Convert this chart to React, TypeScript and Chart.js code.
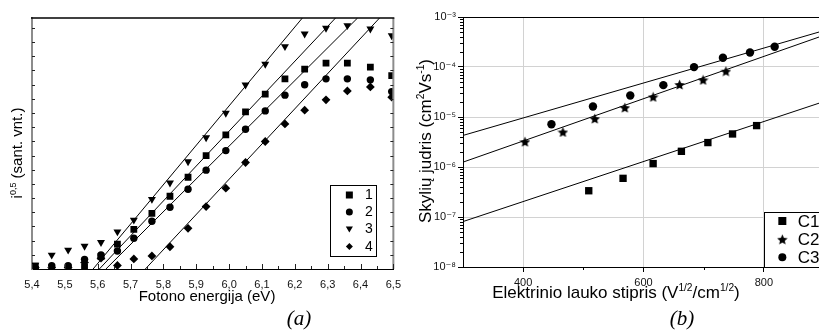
import React, { useEffect, useRef } from 'react';
import { Chart, registerables } from 'chart.js';
Chart.register(...registerables);

const FONT = '"Liberation Sans", Arial, "DejaVu Sans", sans-serif';
const SERIF = '"Liberation Serif", "Times New Roman", serif';

// ---------- (a) photoemission data ----------
const energyEV = [5.41, 5.46, 5.51, 5.56, 5.61, 5.66, 5.71, 5.765, 5.82, 5.875, 5.93, 5.99, 6.05, 6.11, 6.17, 6.23, 6.295, 6.36, 6.43, 6.495];
const sample1 = [0.21, 0.09, 0.09, 0.12, 0.87, 1.76, 2.8, 3.93, 5.13, 6.47, 8.0, 9.46, 11.08, 12.33, 13.41, 14.09, 14.52, 14.52, 14.23, 13.64];
const sample2 = [0.05, 0.23, 0.23, 0.68, 0.99, 1.27, 2.17, 3.37, 4.35, 5.62, 6.97, 8.35, 9.86, 11.15, 12.26, 12.99, 13.41, 13.41, 13.34, 12.51];
const sample3 = [0.28, 0.99, 1.34, 1.62, 1.88, 2.63, 3.46, 4.92, 6.07, 7.57, 9.27, 10.99, 12.99, 14.45, 15.69, 16.58, 16.99, 17.17, 16.94, 16.46];
const sample4 = [0.11, 0.11, 0.11, 0.45, 0.76, 0.25, 0.71, 0.92, 1.57, 2.87, 4.4, 5.7, 7.51, 8.99, 10.23, 11.2, 11.93, 12.56, 12.84, 12.12];
const seriesLabelsA = ['1', '2', '3', '4'];
// fit lines: energy where the fit crosses bottom and top of the plot
const fitStartA = [5.605, 5.625, 5.586, 5.745];
const fitEndA = [6.324, 6.391, 6.223, 6.458];
const yMinA = 0;
const yMaxA = 17.7;
const energyTicks = [5.4, 5.5, 5.6, 5.7, 5.8, 5.9, 6.0, 6.1, 6.2, 6.3, 6.4, 6.5];
const energyMinorTicks = [5.45, 5.55, 5.65, 5.75, 5.85, 5.95, 6.05, 6.15, 6.25, 6.35, 6.45];
const intensityTicks = [1, 2, 3, 4, 5, 6, 7, 8, 9, 10, 11, 12, 13, 14, 15, 16, 17];

// ---------- (b) mobility data ----------
const fieldC1 = [509, 566, 616, 663, 707, 748, 788];
const mobC1 = [3.35e-7, 5.93e-7, 1.17e-6, 2.06e-6, 3.08e-6, 4.58e-6, 6.73e-6];
const fieldC2 = [403, 466, 519, 569, 616, 660, 699, 737];
const mobC2 = [3.21e-6, 5.02e-6, 9.29e-6, 1.54e-5, 2.53e-5, 4.46e-5, 5.53e-5, 8.26e-5];
const fieldC3 = [447, 516, 578, 633, 684, 732, 777, 818];
const mobC3 = [7.16e-6, 1.62e-5, 2.69e-5, 4.34e-5, 9.95e-5, 1.53e-4, 1.95e-4, 2.54e-4];
const seriesLabelsB = ['C1', 'C2', 'C3'];
const fitFieldRange = [300, 900];
const fitC1 = [8.1e-8, 2.04e-5];
const fitC2 = [1.25e-6, 4.31e-4];
const fitC3 = [4.28e-6, 5.35e-4];
const fieldTicks = [400, 600, 800];
const fieldMinorTicks = [500, 700, 900];
const mobilityDecades = [-8, -7, -6, -5, -4, -3];

const SUP: Record<string, string> = { '-': '⁻', '0': '⁰', '1': '¹', '2': '²', '3': '³', '4': '⁴', '5': '⁵', '6': '⁶', '7': '⁷', '8': '⁸', '9': '⁹' };
const toSup = (s: string) => s.split('').map((c) => SUP[c] ?? c).join('');

type Part = { t: string; sup?: boolean };
function drawRich(ctx: CanvasRenderingContext2D, parts: Part[], x: number, y: number, size: number) {
  const supSize = size * 0.6;
  let total = 0;
  const widths = parts.map((p) => {
    ctx.font = `${p.sup ? supSize : size}px ${FONT}`;
    const w = ctx.measureText(p.t).width;
    total += w;
    return w;
  });
  let cx = x - total / 2;
  ctx.textAlign = 'left';
  ctx.textBaseline = 'alphabetic';
  parts.forEach((p, i) => {
    ctx.font = `${p.sup ? supSize : size}px ${FONT}`;
    ctx.fillText(p.t, cx, p.sup ? y - size * 0.42 : y);
    cx += widths[i];
  });
}

function drawMarker(ctx: CanvasRenderingContext2D, kind: string, x: number, y: number, s: number, star?: HTMLCanvasElement) {
  ctx.beginPath();
  if (kind === 'rect') {
    ctx.rect(x - s / 2, y - s / 2, s, s);
  } else if (kind === 'circle') {
    ctx.arc(x, y, s / 2, 0, Math.PI * 2);
  } else if (kind === 'triDown') {
    const r = s / 1.7;
    ctx.moveTo(x - r * 0.866, y - r * 0.5);
    ctx.lineTo(x + r * 0.866, y - r * 0.5);
    ctx.lineTo(x, y + r);
    ctx.closePath();
  } else if (kind === 'diamond') {
    ctx.moveTo(x, y - s / 2);
    ctx.lineTo(x + s / 2, y);
    ctx.lineTo(x, y + s / 2);
    ctx.lineTo(x - s / 2, y);
    ctx.closePath();
  } else if (kind === 'star' && star) {
    ctx.drawImage(star, x - star.width / 2, y - star.height / 2);
    return;
  }
  ctx.fill();
}

function makeStar(size: number) {
  const c = document.createElement('canvas');
  c.width = size;
  c.height = size;
  const g = c.getContext('2d')!;
  g.fillStyle = '#000';
  g.beginPath();
  const cx = size / 2, cy = size / 2 + 0.6, R = size / 2, r = R * 0.46;
  for (let i = 0; i < 10; i++) {
    const a = -Math.PI / 2 + (i * Math.PI) / 5;
    const rr = i % 2 === 0 ? R : r;
    g.lineTo(cx + rr * Math.cos(a), cy + rr * Math.sin(a));
  }
  g.closePath();
  g.fill();
  return c;
}

function line(ctx: CanvasRenderingContext2D, x1: number, y1: number, x2: number, y2: number) {
  ctx.beginPath();
  ctx.moveTo(x1, y1);
  ctx.lineTo(x2, y2);
  ctx.stroke();
}

const pts = (xs: number[], ys: number[]) => xs.map((x, i) => ({ x, y: ys[i] }));

function configA(): any {
  const markerStyles: any[] = [
    { pointStyle: 'rect', pointRadius: 4.8, pointRotation: 0 },
    { pointStyle: 'circle', pointRadius: 3.7, pointRotation: 0 },
    { pointStyle: 'triangle', pointRadius: 4.6, pointRotation: 180 },
    { pointStyle: 'rectRot', pointRadius: 4.4, pointRotation: 0 },
  ];
  const series = [sample1, sample2, sample3, sample4];
  const datasets: any[] = series.map((s, i) => ({
    label: seriesLabelsA[i],
    data: pts(energyEV, s),
    showLine: false,
    pointBackgroundColor: '#000',
    pointBorderColor: '#000',
    pointBorderWidth: 0,
    ...markerStyles[i],
  }));
  fitStartA.forEach((xs, i) => {
    datasets.push({
      label: 'fit' + (i + 1),
      data: [{ x: xs, y: yMinA }, { x: fitEndA[i], y: yMaxA }],
      showLine: true,
      borderColor: '#000',
      borderWidth: 1,
      pointRadius: 0,
    });
  });

  const decor = {
    id: 'decorA',
    afterDraw(chart: any) {
      const { ctx, chartArea: ca } = chart;
      const xs = chart.scales.x, ys = chart.scales.y;
      ctx.save();
      ctx.strokeStyle = '#8c8c8c';
      ctx.lineWidth = 2;
      line(ctx, ca.right, ca.top, ca.right, ca.bottom);
      ctx.strokeStyle = '#000';
      ctx.lineWidth = 1.5;
      line(ctx, ca.left - 1, ca.top, ca.right + 1, ca.top);
      ctx.lineWidth = 1;
      ctx.strokeStyle = '#222';
      intensityTicks.forEach((v) => {
        const py = Math.round(ys.getPixelForValue(v)) + 0.5;
        line(ctx, ca.left, py, ca.left + 3, py);
        line(ctx, ca.right - 3, py, ca.right, py);
      });
      energyTicks.forEach((v) => {
        const px = Math.round(xs.getPixelForValue(v)) + 0.5;
        line(ctx, px, ca.bottom, px, ca.bottom - 5);
      });
      energyMinorTicks.forEach((v) => {
        const px = Math.round(xs.getPixelForValue(v)) + 0.5;
        line(ctx, px, ca.bottom, px, ca.bottom - 3);
      });
      // legend
      const lw = 46, lh = 71;
      const lx = ca.right - 17 - lw, ly = ca.bottom - 13 - lh;
      ctx.fillStyle = '#fff';
      ctx.fillRect(lx, ly, lw, lh);
      ctx.strokeStyle = '#000';
      ctx.lineWidth = 1;
      ctx.strokeRect(Math.round(lx) + 0.5, Math.round(ly) + 0.5, lw, lh);
      const kinds = ['rect', 'circle', 'triDown', 'diamond'];
      const rowY = [10, 27, 43.5, 61.5];
      ctx.fillStyle = '#000';
      kinds.forEach((k, i) => {
        drawMarker(ctx, k, lx + 19, ly + rowY[i], 7);
        ctx.font = `14px ${FONT}`;
        ctx.textAlign = 'right';
        ctx.textBaseline = 'middle';
        ctx.fillText(seriesLabelsA[i], lx + 42.5, ly + rowY[i] + 0.5);
      });
      // titles
      ctx.fillStyle = '#000';
      drawRich(ctx, [{ t: 'Fotono energija (eV)' }], 207, 301, 15);
      ctx.save();
      ctx.translate(22, 153);
      ctx.rotate(-Math.PI / 2);
      drawRich(ctx, [{ t: 'i' }, { t: '0,5', sup: true }, { t: ' (sant. vnt.)' }], 0, 0, 15);
      ctx.restore();
      ctx.font = `italic 21px ${SERIF}`;
      ctx.textAlign = 'center';
      ctx.textBaseline = 'alphabetic';
      ctx.fillText('(a)', 299, 325);
      ctx.restore();
    },
  };

  return {
    type: 'scatter',
    data: { datasets },
    plugins: [decor],
    options: {
      animation: false,
      responsive: false,
      devicePixelRatio: 1,
      layout: { padding: { left: 0, top: 18, right: 13, bottom: 0 } },
      plugins: { legend: { display: false }, tooltip: { enabled: false } },
      scales: {
        x: {
          type: 'linear',
          min: 5.4,
          max: 6.5,
          afterBuildTicks: (s: any) => { s.ticks = energyTicks.map((v) => ({ value: v })); },
          afterFit: (s: any) => { s.height = 62; },
          grid: { display: true, drawOnChartArea: false, drawTicks: false },
          border: { display: true, color: '#000', width: 1 },
          ticks: {
            autoSkip: false,
            maxRotation: 0,
            padding: 9,
            color: '#111',
            font: { family: FONT, size: 11 },
            callback: (v: any) => Number(v).toFixed(1).replace('.', ','),
          },
        },
        y: {
          type: 'linear',
          min: yMinA,
          max: yMaxA,
          afterFit: (s: any) => { s.width = 32; },
          grid: { display: true, drawOnChartArea: false, drawTicks: false },
          border: { display: true, color: '#8c8c8c', width: 2 },
          ticks: { display: false },
        },
      },
    },
  };
}

function configB(star: HTMLCanvasElement): any {
  const datasets: any[] = [
    { label: 'C1', data: pts(fieldC1, mobC1), pointStyle: 'rect', pointRadius: 5.2 },
    { label: 'C2', data: pts(fieldC2, mobC2), pointStyle: star, pointRadius: 5 },
    { label: 'C3', data: pts(fieldC3, mobC3), pointStyle: 'circle', pointRadius: 4.2 },
  ].map((d) => ({ ...d, showLine: false, pointBackgroundColor: '#000', pointBorderColor: '#000', pointBorderWidth: 0 }));
  [fitC1, fitC2, fitC3].forEach((f, i) => {
    datasets.push({
      label: 'fit' + seriesLabelsB[i],
      data: pts(fitFieldRange, f),
      showLine: true,
      borderColor: '#000',
      borderWidth: 1,
      pointRadius: 0,
    });
  });

  const decor = {
    id: 'decorB',
    afterDraw(chart: any) {
      const { ctx, chartArea: ca } = chart;
      const xs = chart.scales.x, ys = chart.scales.y;
      ctx.save();
      ctx.strokeStyle = '#000';
      ctx.lineWidth = 1;
      line(ctx, ca.left, Math.round(ca.top) + 0.5, ca.right, Math.round(ca.top) + 0.5);
      fieldMinorTicks.forEach((v) => {
        const px = Math.round(xs.getPixelForValue(v)) + 0.5;
        line(ctx, px, ca.bottom, px, ca.bottom + 3);
      });
      for (let e = -8; e < -3; e++) {
        for (let k = 2; k <= 9; k++) {
          const py = Math.round(ys.getPixelForValue(k * Math.pow(10, e))) + 0.5;
          line(ctx, ca.left, py, ca.left - 3, py);
        }
      }
      // legend
      const lx = xs.getPixelForValue(800);
      const lh = 55;
      const ly = ca.bottom - lh;
      ctx.fillStyle = '#fff';
      ctx.fillRect(lx, ly, ca.right - lx, lh);
      ctx.strokeStyle = '#000';
      ctx.strokeRect(Math.round(lx) + 0.5, Math.round(ly) + 0.5, ca.right - lx, lh);
      const kinds = ['rect', 'star', 'circle'];
      const rowY = [9, 27.3, 45.3];
      ctx.fillStyle = '#000';
      kinds.forEach((k, i) => {
        drawMarker(ctx, k, lx + 18.5, ly + rowY[i], 8, star);
        ctx.font = `17px ${FONT}`;
        ctx.textAlign = 'left';
        ctx.textBaseline = 'middle';
        ctx.fillText(seriesLabelsB[i], lx + 34, ly + rowY[i] + 1);
      });
      // titles
      ctx.fillStyle = '#000';
      drawRich(ctx, [{ t: 'Elektrinio lauko stipris (V' }, { t: '1/2', sup: true }, { t: '/cm' }, { t: '1/2', sup: true }, { t: ')' }], 206, 298, 17);
      ctx.save();
      ctx.translate(21, 141);
      ctx.rotate(-Math.PI / 2);
      drawRich(ctx, [{ t: 'Skylių judris (cm' }, { t: '2', sup: true }, { t: 'Vs' }, { t: '-1', sup: true }, { t: ')' }], 0, 0, 17);
      ctx.restore();
      ctx.font = `italic 21px ${SERIF}`;
      ctx.textAlign = 'center';
      ctx.textBaseline = 'alphabetic';
      ctx.fillText('(b)', 272, 325);
      ctx.restore();
    },
  };

  return {
    type: 'scatter',
    data: { datasets },
    plugins: [decor],
    options: {
      animation: false,
      responsive: false,
      devicePixelRatio: 1,
      layout: { padding: { left: 0, top: 17, right: 16, bottom: 0 } },
      plugins: { legend: { display: false }, tooltip: { enabled: false } },
      scales: {
        x: {
          type: 'linear',
          min: fitFieldRange[0],
          max: fitFieldRange[1],
          afterBuildTicks: (s: any) => { s.ticks = fieldTicks.map((v) => ({ value: v })); },
          afterFit: (s: any) => { s.height = 64; },
          grid: { color: '#d2d2d2', lineWidth: 1, tickColor: '#000', tickLength: 5, drawTicks: true },
          border: { display: true, color: '#000', width: 1 },
          ticks: { autoSkip: false, maxRotation: 0, padding: 4, color: '#111', font: { family: FONT, size: 11 } },
        },
        y: {
          type: 'logarithmic',
          min: 1e-8,
          max: 1e-3,
          afterBuildTicks: (s: any) => { s.ticks = mobilityDecades.map((e) => ({ value: Math.pow(10, e) })); },
          afterFit: (s: any) => { s.width = 53; },
          grid: { color: '#d2d2d2', lineWidth: 1, tickColor: '#000', tickLength: 5, drawTicks: true },
          border: { display: true, color: '#000', width: 1 },
          ticks: {
            padding: 2,
            color: '#111',
            font: { family: FONT, size: 11 },
            callback: (v: any) => '10' + toSup(String(Math.round(Math.log10(Number(v))))),
          },
        },
      },
    },
  };
}

export default function App() {
  const refA = useRef<HTMLCanvasElement>(null);
  const refB = useRef<HTMLCanvasElement>(null);
  useEffect(() => {
    const star = makeStar(11);
    const chartA = new Chart(refA.current!, configA());
    const chartB = new Chart(refB.current!, configB(star));
    return () => {
      chartA.destroy();
      chartB.destroy();
    };
  }, []);
  return (
    <div style={{ position: 'fixed', left: 0, top: 0, width: 819, height: 331, overflow: 'hidden', background: '#fff' }}>
      <canvas ref={refA} width={410} height={331} style={{ position: 'absolute', left: 0, top: 0 }} />
      <canvas ref={refB} width={430} height={331} style={{ position: 'absolute', left: 410, top: 0 }} />
    </div>
  );
}
